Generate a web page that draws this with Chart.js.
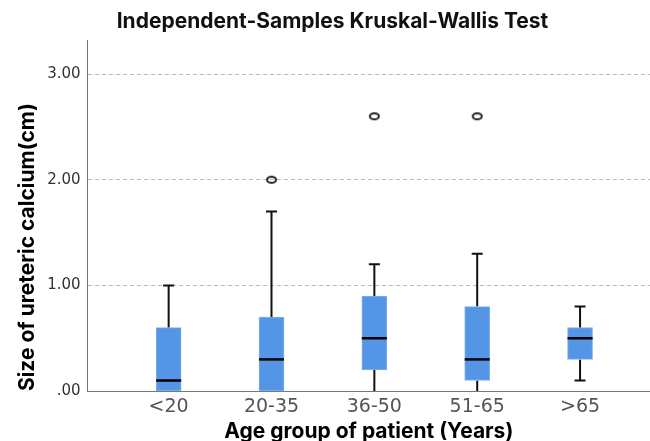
<!DOCTYPE html>
<html>
<head>
<meta charset="utf-8">
<script src="https://cdn.jsdelivr.net/npm/chart.js@4.4.1/dist/chart.umd.min.js"></script>
<style>
  body { margin: 0; background: #fff; }
  #wrap { width: 650px; height: 441px; }
</style>
</head>
<body>
<div id="wrap"><canvas id="boxChart"></canvas></div>
<script>
// age groups and box plot values
const groups = ["<20", "20-35", "36-50", "51-65", ">65"];
const q1 = [0, 0, 0.2, 0.1, 0.3];
const q3 = [0.6, 0.7, 0.9, 0.8, 0.6];
const medians = [0.1, 0.3, 0.5, 0.3, 0.5];
const whiskerLow = [0, 0, 0, 0, 0.1];
const whiskerHigh = [1.0, 1.7, 1.2, 1.3, 0.8];
const outlierGroups = ["20-35", "36-50", "51-65"];
const outlierValues = [2.0, 2.6, 2.6];
const yTicks = [0, 1, 2, 3];

// small open ellipse used for the outliers
const ring = document.createElement("canvas");
ring.width = 13;
ring.height = 10;
const rc = ring.getContext("2d");
rc.lineWidth = 2;
rc.strokeStyle = "#222";
rc.beginPath();
rc.ellipse(6.5, 5, 4.5, 3, 0, 0, Math.PI * 2);
rc.stroke();

// whiskers behind the boxes, medians on top
const boxParts = {
  id: "boxParts",
  beforeDatasetsDraw(chart) {
    const { ctx, scales: { x, y } } = chart;
    ctx.save();
    ctx.strokeStyle = "#111";
    ctx.lineWidth = 2;
    groups.forEach((g, i) => {
      const px = x.getPixelForValue(i + 1);
      ctx.beginPath();
      ctx.moveTo(px, y.getPixelForValue(q3[i]));
      ctx.lineTo(px, y.getPixelForValue(whiskerHigh[i]));
      ctx.moveTo(px, y.getPixelForValue(q1[i]));
      ctx.lineTo(px, y.getPixelForValue(whiskerLow[i]));
      ctx.moveTo(px - 5.5, y.getPixelForValue(whiskerHigh[i]));
      ctx.lineTo(px + 5.5, y.getPixelForValue(whiskerHigh[i]));
      if (whiskerLow[i] > 0) {
        ctx.moveTo(px - 5.5, y.getPixelForValue(whiskerLow[i]));
        ctx.lineTo(px + 5.5, y.getPixelForValue(whiskerLow[i]));
      }
      ctx.stroke();
    });
    ctx.restore();
  },
  afterDatasetsDraw(chart) {
    const { ctx, scales: { x, y } } = chart;
    ctx.save();
    ctx.strokeStyle = "#000";
    ctx.lineWidth = 2.5;
    groups.forEach((g, i) => {
      const px = x.getPixelForValue(i + 1);
      const py = y.getPixelForValue(medians[i]);
      ctx.beginPath();
      ctx.moveTo(px - 12.5, py);
      ctx.lineTo(px + 12.5, py);
      ctx.stroke();
    });
    ctx.restore();
  },
};

const ctx = document.getElementById("boxChart").getContext("2d");
const boxChart = new Chart(ctx, {
  type: "bar",
  data: {
    datasets: [
      {
        type: "bar",
        data: groups.map((g, i) => ({ x: i + 1, y: [q1[i], q3[i]] })),
        backgroundColor: "#5495e5",
        borderColor: "#7fb0ee",
        borderWidth: 1,
        borderSkipped: false,
        barThickness: 25,
      },
      {
        type: "scatter",
        data: outlierValues.map((v, i) => ({ x: groups.indexOf(outlierGroups[i]) + 1, y: v })),
        pointStyle: ring,
        pointRadius: 5,
      },
    ],
  },
  options: {
    responsive: true,
    maintainAspectRatio: false,
    animation: false,
    layout: { autoPadding: false, padding: { left: 15, right: 0, top: 0, bottom: 0 } },
    plugins: {
      legend: { display: false },
      tooltip: { enabled: false },
      title: {
        display: true,
        text: "Independent-Samples Kruskal-Wallis Test",
        color: "#111",
        font: { family: "Inter", size: 21, weight: "bold" },
        padding: { top: 9, bottom: 6 },
      },
    },
    scales: {
      x: {
        type: "linear",
        offset: false,
        min: 0.212,
        max: 5.68,
        afterBuildTicks: (scale) => {
          scale.ticks = groups.map((g, i) => ({ value: i + 1 }));
        },
        grid: { display: false, drawTicks: false },
        border: { color: "#777", width: 1 },
        ticks: {
          callback: (v) => groups[v - 1],
          color: "#555",
          font: { family: "DejaVu Sans", size: 19, lineHeight: 1 },
          padding: 6,
          maxRotation: 0,
        },
        title: {
          display: true,
          text: "Age group of patient (Years)",
          color: "#000",
          font: { family: "Inter", size: 21, weight: "bold", lineHeight: 0.9 },
          padding: { top: 0, bottom: 0 },
        },
      },
      y: {
        min: 0,
        max: 3.32,
        afterBuildTicks: (scale) => {
          scale.ticks = yTicks.map((v) => ({ value: v }));
        },
        grid: {
          color: (c) => (c.tick && c.tick.value === 0 ? "rgba(0,0,0,0)" : "#bbb"),
          drawTicks: false,
        },
        border: { color: "#777", width: 1, dash: [4, 3] },
        ticks: {
          callback: (v) => (v === 0 ? ".00" : v.toFixed(2)),
          color: "#333",
          font: { family: "DejaVu Sans", size: 15 },
          padding: 7,
        },
        title: {
          display: true,
          align: "start",
          text: "Size of ureteric calcium(cm)",
          color: "#000",
          font: { family: "Inter", size: 21, weight: "bold" },
          padding: { top: 0, bottom: 0 },
        },
      },
    },
  },
  plugins: [boxParts],
});
</script>
</body>
</html>
